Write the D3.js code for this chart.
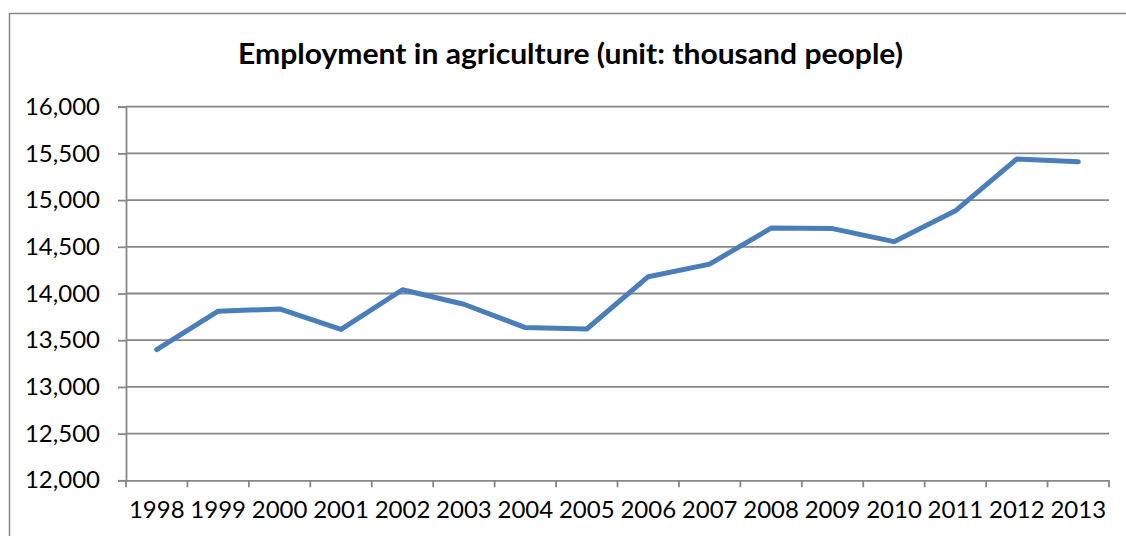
<!DOCTYPE html>
<html>
<head>
<meta charset="utf-8">
<script src="https://cdn.jsdelivr.net/npm/d3@7"></script>
<style>
  html, body { margin: 0; padding: 0; background: #fff; }
  svg { display: block; }
</style>
</head>
<body>
<svg id="chart" width="1126" height="536"></svg>
<script>
// Employment in agriculture, thousand people, 1998–2013
const years = ["1998","1999","2000","2001","2002","2003","2004","2005",
               "2006","2007","2008","2009","2010","2011","2012","2013"];
const employment = [13400, 13810, 13835, 13615, 14040, 13885, 13635, 13620,
                    14180, 14315, 14700, 14695, 14555, 14885, 15440, 15410];
const yTicks = [12000, 12500, 13000, 13500, 14000, 14500, 15000, 15500, 16000];
const titleText = "Employment in agriculture (unit: thousand people)";

const W = 1126, H = 536;
const plot = { left: 126, right: 1109, top: 106.7, bottom: 480.3 };
const gridColor = "#878787";
const lineColor = "#4a7ebb";
const font = "Lato, 'Open Sans', sans-serif";

const svg = d3.select("#chart");

// chart frame (runs off the right and bottom edges)
svg.append("rect")
  .attr("x", 9.5).attr("y", 13.5)
  .attr("width", W + 20).attr("height", H + 20)
  .attr("fill", "#fff")
  .attr("stroke", gridColor).attr("stroke-width", 1.5);

const x = d3.scaleBand().domain(years).range([plot.left, plot.right]);
const y = d3.scaleLinear().domain([12000, 16000]).range([plot.bottom, plot.top]);

// horizontal gridlines
svg.append("g")
  .selectAll("line")
  .data(yTicks.filter(v => v > 12000))
  .join("line")
  .attr("x1", plot.left).attr("x2", plot.right)
  .attr("y1", d => y(d)).attr("y2", d => y(d))
  .attr("stroke", gridColor).attr("stroke-width", 1.8);

// y axis
const yAxis = svg.append("g")
  .attr("transform", `translate(${plot.left},0)`)
  .call(d3.axisLeft(y).tickValues(yTicks).tickFormat(d3.format(",")).tickSize(8).tickPadding(18));
yAxis.select(".domain").attr("stroke", gridColor).attr("stroke-width", 1.8);
yAxis.selectAll(".tick line").attr("stroke", gridColor).attr("stroke-width", 1.8);
yAxis.selectAll(".tick text")
  .attr("font-family", font).attr("font-size", 24).attr("fill", "#000");

// x axis with tick marks at category boundaries
const xAxis = svg.append("g")
  .attr("transform", `translate(0,${plot.bottom})`)
  .call(d3.axisBottom(x).tickSize(0).tickPadding(21));
xAxis.select(".domain").attr("stroke", gridColor).attr("stroke-width", 1.8);
xAxis.selectAll(".tick text")
  .attr("font-family", font).attr("font-size", 24).attr("fill", "#000");

const boundaries = years.map(d => x(d)).concat([x(years[years.length - 1]) + x.bandwidth()]);
svg.append("g")
  .selectAll("line")
  .data(boundaries)
  .join("line")
  .attr("x1", d => d).attr("x2", d => d)
  .attr("y1", plot.bottom).attr("y2", plot.bottom + 7)
  .attr("stroke", gridColor).attr("stroke-width", 1.8);

// data line
const line = d3.line()
  .x((d, i) => x(years[i]) + x.bandwidth() / 2)
  .y(d => y(d));

svg.append("path")
  .datum(employment)
  .attr("d", line)
  .attr("fill", "none")
  .attr("stroke", lineColor)
  .attr("stroke-width", 5)
  .attr("stroke-linejoin", "round")
  .attr("stroke-linecap", "round");

// title
svg.append("text")
  .attr("x", 570.5).attr("y", 64)
  .attr("text-anchor", "middle")
  .attr("font-family", font).attr("font-weight", "bold")
  .attr("font-size", 29)
  .attr("textLength", 665).attr("lengthAdjust", "spacingAndGlyphs")
  .attr("fill", "#000")
  .text(titleText);
</script>
</body>
</html>
